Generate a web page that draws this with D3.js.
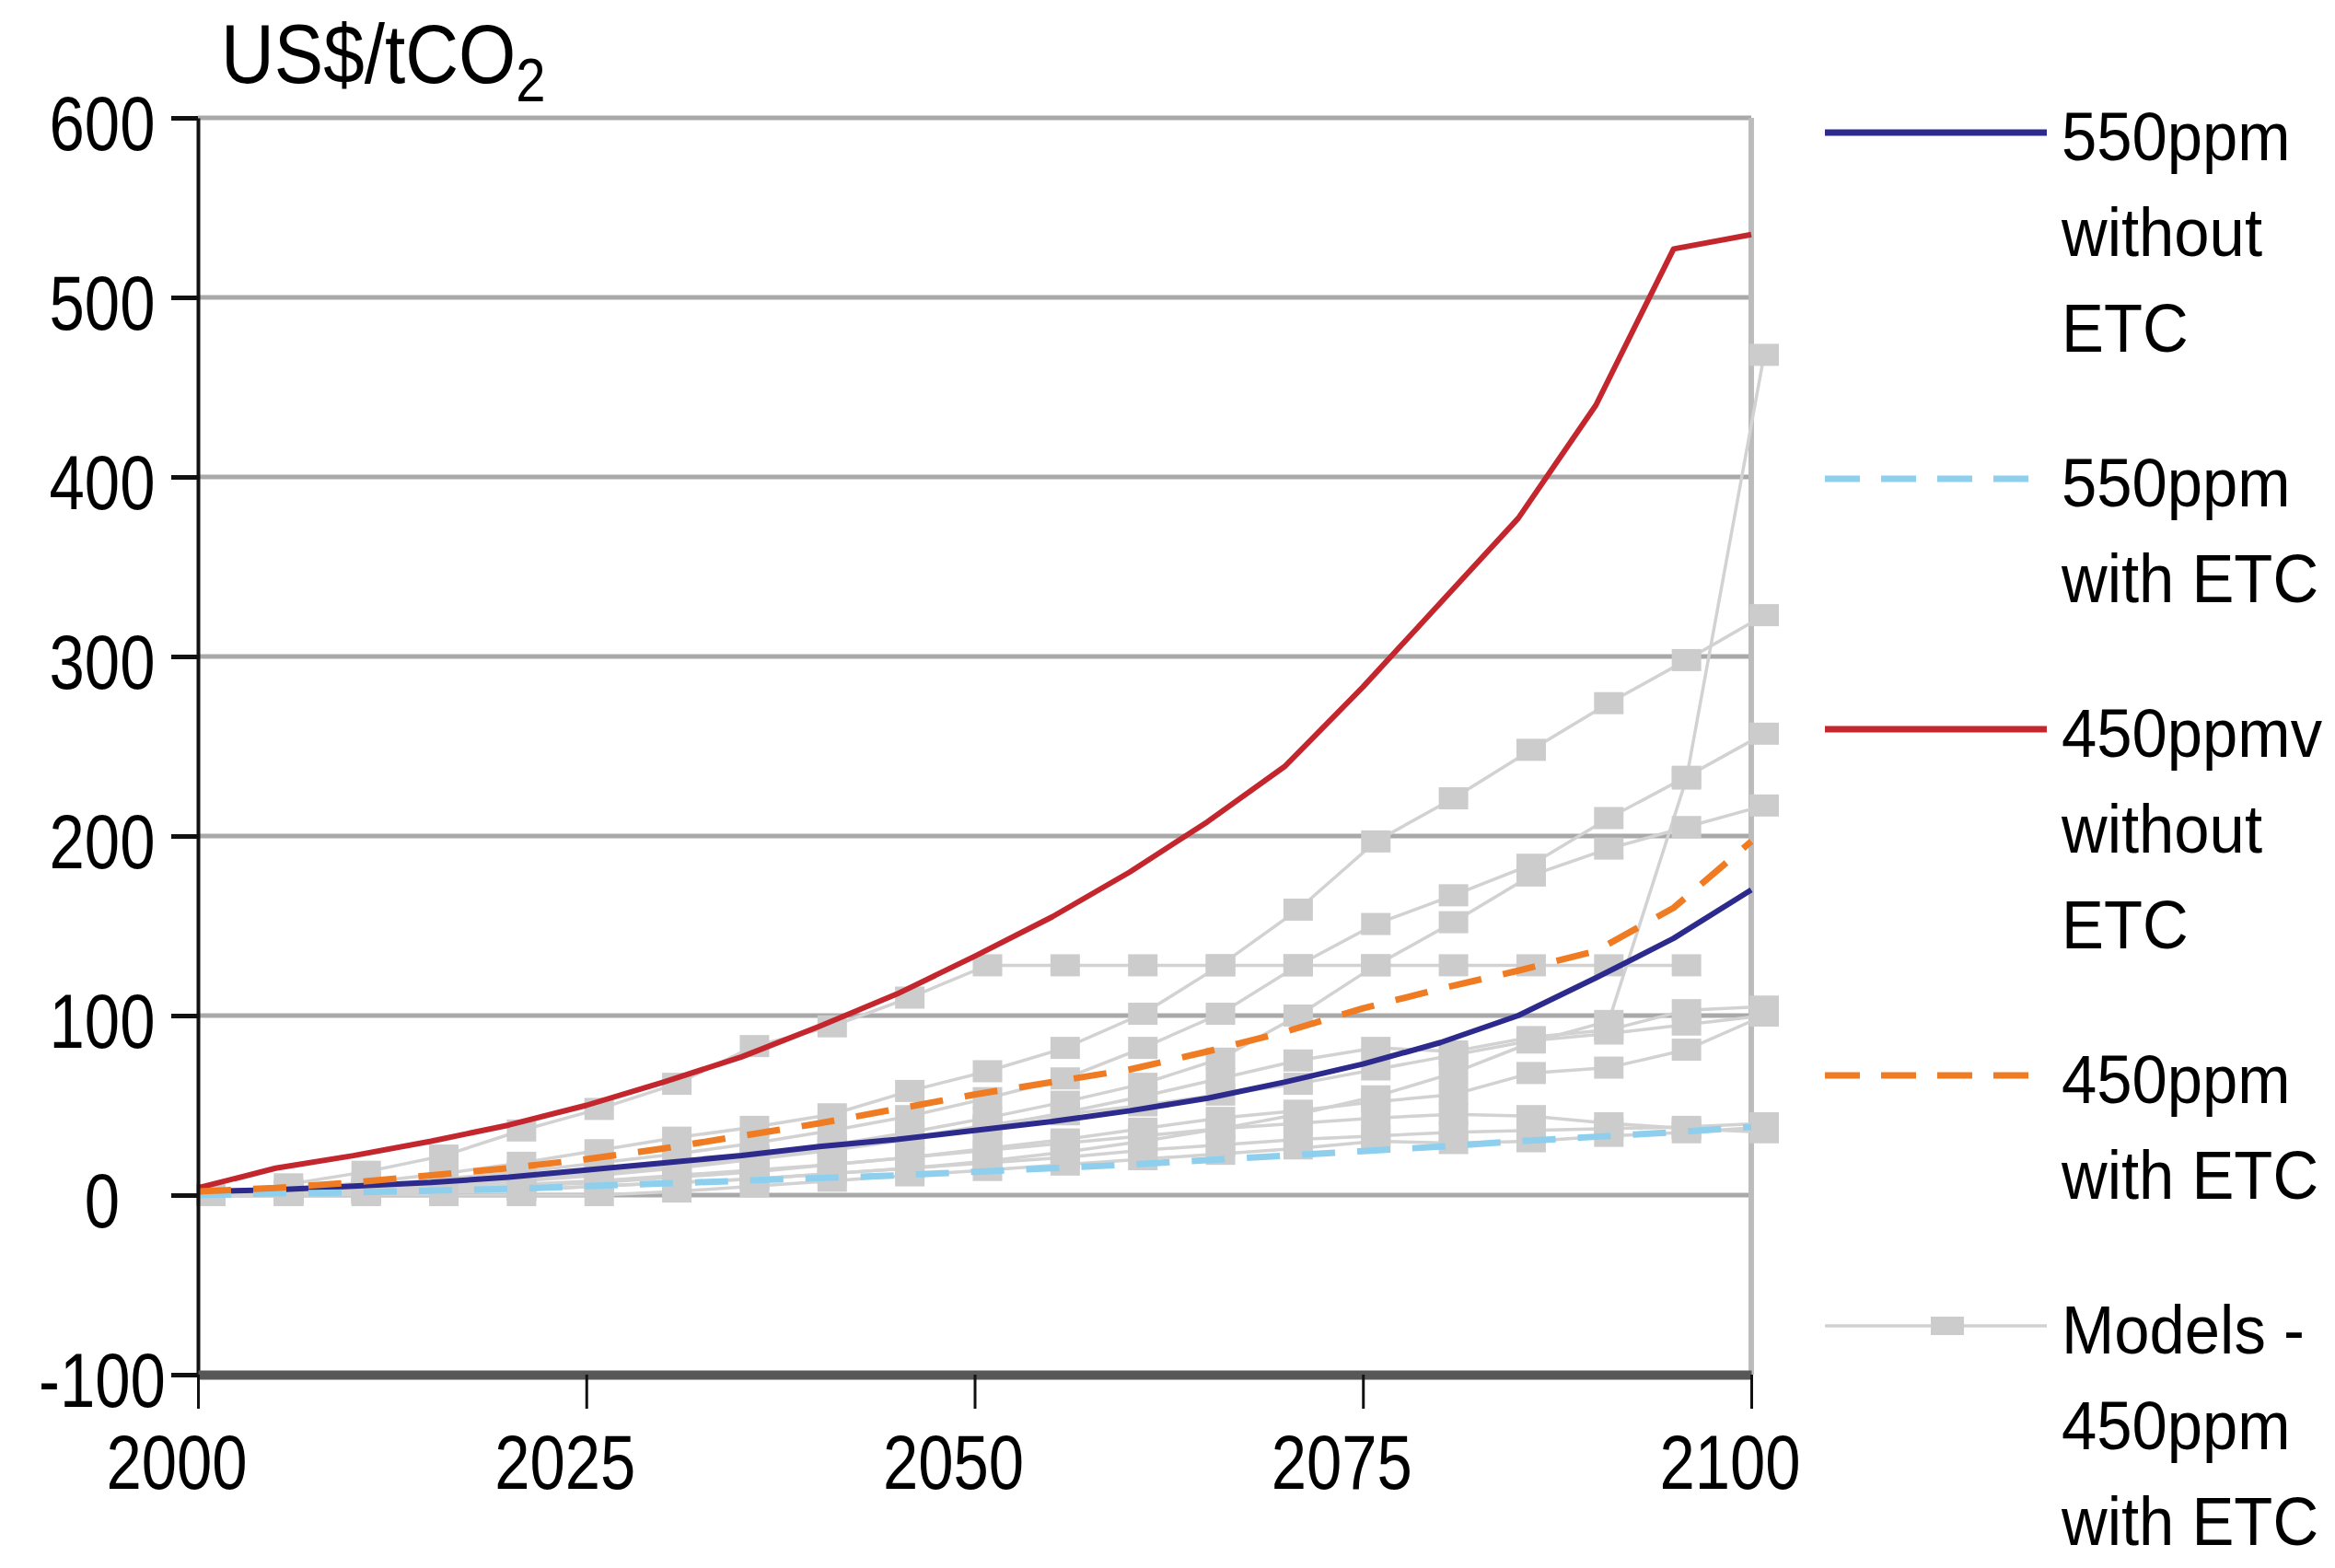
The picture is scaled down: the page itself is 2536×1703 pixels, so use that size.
<!DOCTYPE html>
<html>
<head>
<meta charset="utf-8">
<script src="https://cdn.jsdelivr.net/npm/d3@7"></script>
<style>
  html, body { margin: 0; padding: 0; background: #ffffff; }
  svg { display: block; }
</style>
</head>
<body>
<svg id="chart" width="2536" height="1703"></svg>
<script>
// ---- data -------------------------------------------------------------
const years = d3.range(2000, 2101, 5);               // 2000, 2005, ... 2100
const yTickValues = [-100, 0, 100, 200, 300, 400, 500, 600];
const xTickValues = [2000, 2025, 2050, 2075, 2100];

// carbon price paths, US$/tCO2
const ppm550NoEtc   = [2, 3, 5, 7, 10, 14, 18, 22, 27, 31, 36, 41, 47, 54, 63, 73, 85, 100, 121, 143, 170];
const ppm550Etc     = [0, 1, 1.5, 2.5, 3.5, 5, 6.5, 8, 9.5, 11, 13, 15, 17, 19.5, 22, 24.5, 27, 30, 32.5, 35, 38];
const ppm450NoEtc   = [4, 15, 22, 30, 39, 50, 63, 77, 94, 112, 133, 155, 180, 208, 239, 283, 330, 377, 440, 527, 535];
const ppm450Etc     = [2, 4, 7, 11, 15, 20, 26, 33, 40, 48, 56, 63, 70, 80, 91, 104, 115, 125, 136, 160, 197];

// individual model runs, 450ppm with ETC
const modelA = [0, 6, 13, 22, 36, 48, 62, 83, 94, 110, 128, 128, 128, 128, 128, 128, 128, 128, 128, 128, null];
const modelB = [0, 3, 7, 12, 18, 25, 32, 38, 45, 58, 69, 82, 101, 128, 159, 197, 221, 248, 274, 298, 323];
const modelC = [0, 2, 5, 9, 13, 18, 23, 29, 36, 44, 54, 65, 82, 101, 128, 151, 167, 184, 210, 233, 257];
const modelD = [0, 1, 3, 6, 9, 13, 17, 22, 28, 35, 43, 52, 62, 76, 100, 128, 152, 178, 193, 205, 217];
const modelE = [0, 1, 3, 5, 8, 11, 15, 20, 25, 31, 38, 46, 55, 65, 75, 82, 80, 88, 92, 103, 105];
const modelF = [0, 1, 2, 3, 5, 7, 10, 13, 17, 21, 26, 31, 37, 43, 47, 52, 56, 68, 71, 81, 100];
const modelG = [0, 1, 2, 4, 6, 8, 11, 14, 17, 21, 25, 29, 33, 37, 40, 43, 45, 44, 40, 37, 35];
const modelH = [0, 0, 0, 0, 0, 0, 2, 5, 8, 11, 14, 17, 20, 23, 26, 30, 29, 30, 33, 35, 38];
const modelI = [0, 0, 1, 2, 3, 5, 7, 9, 12, 15, 19, 24, 30, 37, 45, 55, 68, 85, 97, 232, 468];
const modelJ = [0, 2, 4, 6, 9, 12, 16, 21, 26, 32, 39, 45, 50, 56, 62, 70, 78, 86, 90, 95, 100];
const modelK = [0, 0, 1, 2, 3, 5, 7, 9, 12, 15, 18, 21, 25, 28, 31, 33, 35, 36, 37, 38, 40];
const models = [modelA, modelB, modelC, modelD, modelE, modelF, modelG, modelH, modelI, modelJ, modelK];

const legendLabels = [
  ["550ppm", "without", "ETC"],
  ["550ppm", "with ETC"],
  ["450ppmv", "without", "ETC"],
  ["450ppm", "with ETC"],
  ["Models -", "450ppm", "with ETC"]
];

// ---- styles -----------------------------------------------------------
const FONT = "'Liberation Sans', Arial, Helvetica, sans-serif";
const C_NAVY = "#2c2a8c", C_SKY = "#8ecfee", C_RED = "#c4262e", C_ORANGE = "#ef7b22";
const C_MODEL_LINE = "#d2d2d2", C_MODEL_MARK = "#cccccc";

const seriesStyles = [
  { values: ppm550NoEtc, color: C_NAVY,   width: 6, dash: null },
  { values: ppm550Etc,   color: C_SKY,    width: 7, dash: "36 24" },
  { values: ppm450NoEtc, color: C_RED,    width: 6, dash: null },
  { values: ppm450Etc,   color: C_ORANGE, width: 7, dash: "36 24" }
];

// ---- layout -----------------------------------------------------------
const svg = d3.select("#chart");
const plotLeft = 215, plotRight = 1902, plotTop = 128, plotBottom = 1493;

const x = d3.scaleLinear().domain([2000, 2100]).range([plotLeft, plotRight]);
const y = d3.scaleLinear().domain([-100, 600]).range([plotBottom, plotTop]);

svg.append("rect").attr("width", 2536).attr("height", 1703).attr("fill", "#fff");

// horizontal gridlines
svg.append("g").selectAll("line")
  .data(yTickValues.filter(v => v >= 0))
  .join("line")
  .attr("x1", plotLeft).attr("x2", plotRight)
  .attr("y1", d => y(d)).attr("y2", d => y(d))
  .attr("stroke", "#a9a9a9").attr("stroke-width", 5);

// right frame edge
svg.append("line")
  .attr("x1", x(2100)).attr("x2", x(2100))
  .attr("y1", y(600)).attr("y2", y(-100))
  .attr("stroke", "#bcbcbc").attr("stroke-width", 6);

// ---- model runs (grey, square markers) ---------------------------------
const modelLayer = svg.append("g").attr("transform", "translate(14,0)");
const line = d3.line()
  .defined(d => d[1] != null)
  .x(d => x(d[0]))
  .y(d => y(d[1]));

models.forEach(vals => {
  const pts = years.map((yr, i) => [yr, vals[i]]);
  modelLayer.append("path")
    .attr("d", line(pts))
    .attr("fill", "none")
    .attr("stroke", C_MODEL_LINE)
    .attr("stroke-width", 3.5);
});
models.forEach(vals => {
  const pts = years.map((yr, i) => [yr, vals[i]]).filter(d => d[1] != null);
  modelLayer.append("g").selectAll("rect")
    .data(pts)
    .join("rect")
    .attr("x", d => x(d[0]) - 16)
    .attr("y", d => y(d[1]) - 12)
    .attr("width", 32).attr("height", 24)
    .attr("fill", C_MODEL_MARK);
});

// ---- scenario paths ----------------------------------------------------
seriesStyles.forEach(s => {
  const pts = years.map((yr, i) => [yr, s.values[i]]);
  svg.append("path")
    .attr("d", line(pts))
    .attr("fill", "none")
    .attr("stroke", s.color)
    .attr("stroke-width", s.width)
    .attr("stroke-linejoin", "round")
    .attr("stroke-dasharray", s.dash);
});

// ---- axes --------------------------------------------------------------
const yAxis = svg.append("g")
  .attr("transform", `translate(${plotLeft},0)`)
  .call(d3.axisLeft(y).tickValues(yTickValues).tickSize(29).tickSizeOuter(0).tickFormat(""));
yAxis.select(".domain").attr("stroke", "#111").attr("stroke-width", 4);
yAxis.selectAll(".tick line").attr("stroke", "#111").attr("stroke-width", 5);

const xAxis = svg.append("g")
  .attr("transform", `translate(0,${y(-100)})`)
  .call(d3.axisBottom(x).tickValues(xTickValues).tickSize(37).tickSizeOuter(0).tickFormat(""));
xAxis.select(".domain").attr("stroke", "#575757").attr("stroke-width", 10);
xAxis.selectAll(".tick line").attr("stroke", "#111").attr("stroke-width", 3);

// tick labels (narrow-set digits)
svg.append("g").selectAll("text")
  .data(yTickValues)
  .join("text")
  .attr("transform", d => `translate(111,${y(d) + 35}) scale(0.82,1)`)
  .attr("text-anchor", "middle")
  .attr("font-family", FONT).attr("font-size", 84).attr("fill", "#000")
  .text(d => d);

svg.append("g").selectAll("text")
  .data(xTickValues)
  .join("text")
  .attr("transform", d => `translate(${x(d) - 23},1617) scale(0.82,1)`)
  .attr("text-anchor", "middle")
  .attr("font-family", FONT).attr("font-size", 84).attr("fill", "#000")
  .text(d => d);

// unit label
const unit = svg.append("text")
  .attr("transform", "translate(240,90) scale(0.88,1)")
  .attr("font-family", FONT).attr("font-size", 91).attr("fill", "#000");
unit.append("tspan").text("US$/tCO");
unit.append("tspan").attr("font-size", 66).attr("dy", 20).text("2");

// ---- legend ------------------------------------------------------------
const legendKeys = [
  { color: C_NAVY,   dash: null,    marker: false },
  { color: C_SKY,    dash: "38 23", marker: false },
  { color: C_RED,    dash: null,    marker: false },
  { color: C_ORANGE, dash: "38 23", marker: false },
  { color: C_MODEL_LINE, dash: null, marker: true }
];
const legend = svg.append("g");
const lineGap = 104;
let cursor = 144;
legendLabels.forEach((lines, i) => {
  const key = legendKeys[i];
  const g = legend.append("g").attr("transform", `translate(0,${cursor})`);
  g.append("line")
    .attr("x1", 1982).attr("x2", key.dash ? 2204 : 2223)
    .attr("y1", 0).attr("y2", 0)
    .attr("stroke", key.color)
    .attr("stroke-width", key.marker ? 3.5 : 7)
    .attr("stroke-dasharray", key.dash);
  if (key.marker) {
    g.append("rect").attr("x", 2097).attr("y", -10).attr("width", 36).attr("height", 20)
      .attr("fill", C_MODEL_MARK);
  }
  lines.forEach((txt, j) => {
    g.append("text")
      .attr("transform", `translate(2239,${30 + j * lineGap}) scale(0.93,1)`)
      .attr("font-family", FONT).attr("font-size", 74).attr("fill", "#000")
      .text(txt);
  });
  cursor += lines.length * lineGap + 64;
});
</script>
</body>
</html>
